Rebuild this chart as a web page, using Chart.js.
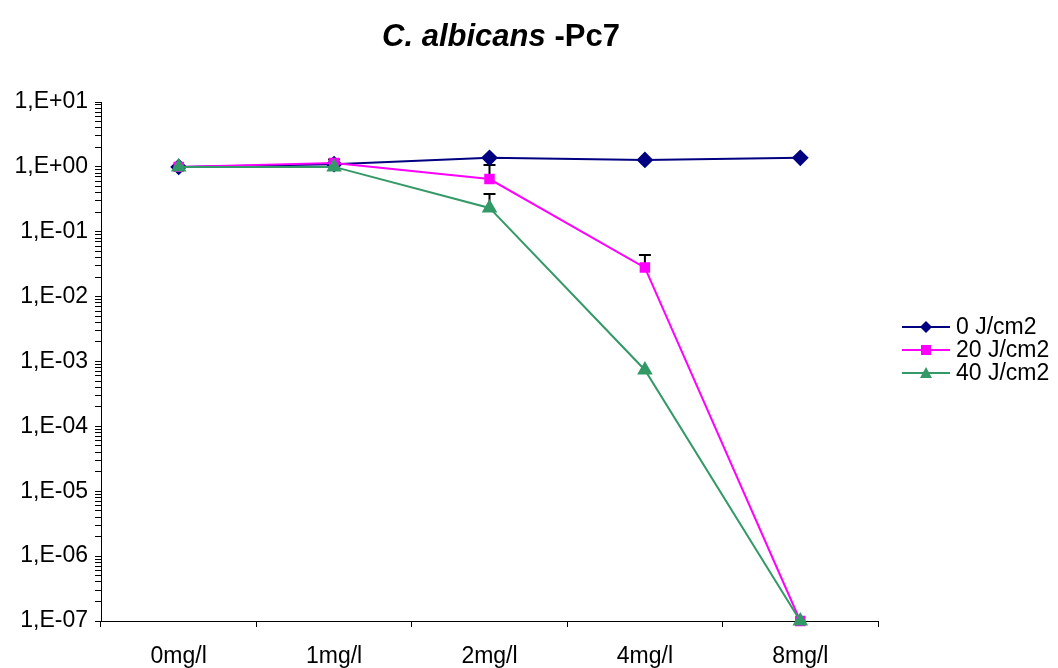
<!DOCTYPE html>
<html>
<head>
<meta charset="utf-8">
<script src="https://cdn.jsdelivr.net/npm/chart.js@4/dist/chart.umd.min.js"></script>
<style>
  body { margin: 0; background: #fff; font-family: "Liberation Sans", Arial, sans-serif; }
  #wrap { position: relative; width: 1058px; height: 668px; }
  #myChart { display: block; }
  #title { position: absolute; top: 18px; left: 0; width: 1002px; text-align: center; font-size: 31px; font-weight: bold; color: #000; }
  #legend { position: absolute; left: 902px; top: 315px; font-size: 23px; color: #000; }
  .row { display: flex; align-items: center; height: 23px; }
  .row svg { margin-right: 6px; }
</style>
</head>
<body>
<div id="wrap">
  <canvas id="myChart" width="1058" height="668"></canvas>
  <div id="title"><i>C. albicans</i> -Pc7</div>
  <div id="legend"></div>
</div>
<script>
const chartLabels = ['0mg/l', '1mg/l', '2mg/l', '4mg/l', '8mg/l'];
const seriesNames = ['0 J/cm2', '20 J/cm2', '40 J/cm2'];
const series0 = [1.0, 1.1, 1.38, 1.28, 1.38];
const series20 = [1.0, 1.15, 0.65, 0.028, 1e-7];
const series40 = [1.0, 1.0, 0.233, 7.4e-4, 1e-7];
// upper error (plus only)
const err0 = [0, 0, 0, 0, 0];
const err20 = [0, 0.15, 0.42, 0.016, 0];
const err40 = [0, 0, 0.15, 0, 0];
const yMin = 1e-7;
const yMax = 10;

const colors = ['#000080', '#FF00FF', '#339966'];
const styles = ['rectRot', 'rect', 'triangle'];
const radii = [7, 6, 7];
const values = [series0, series20, series40];
const errors = [err0, err20, err40];

function expLabel(v) {
    const e = Math.round(Math.log10(v));
    const sign = e < 0 ? '-' : '+';
    return '1,E' + sign + String(Math.abs(e)).padStart(2, '0');
}

const errorBars = {
    id: 'errorBars',
    beforeDatasetsDraw(chart) {
        const ctx = chart.ctx;
        const y = chart.scales.y;
        ctx.save();
        ctx.strokeStyle = '#000';
        ctx.lineWidth = 2;
        chart.data.datasets.forEach((ds, i) => {
            const meta = chart.getDatasetMeta(i);
            ds.errPlus.forEach((e, j) => {
                if (!e) return;
                const pt = meta.data[j];
                const top = y.getPixelForValue(ds.data[j] + e);
                ctx.beginPath();
                ctx.moveTo(pt.x, pt.y);
                ctx.lineTo(pt.x, top);
                ctx.moveTo(pt.x - 6, top);
                ctx.lineTo(pt.x + 6, top);
                ctx.stroke();
            });
        });
        ctx.restore();
    }
};

const ctx = document.getElementById('myChart');
const myChart = new Chart(ctx, {
    type: 'line',
    data: {
        labels: chartLabels,
        datasets: seriesNames.map((name, i) => ({
            label: name,
            data: values[i],
            errPlus: errors[i],
            order: seriesNames.length - 1 - i,
            borderColor: colors[i],
            backgroundColor: colors[i],
            borderWidth: 2,
            pointStyle: styles[i],
            pointRadius: radii[i],
            pointHoverRadius: radii[i],
            tension: 0,
            clip: false
        }))
    },
    options: {
        responsive: false,
        animation: false,
        layout: {
            padding: { left: 0, right: 180, top: 102, bottom: 0 }
        },
        scales: {
            x: {
                offset: true,
                afterFit: axis => { axis.height = 47; },
                grid: {
                    offset: true,
                    drawOnChartArea: false,
                    tickLength: 6,
                    color: '#000'
                },
                border: { color: '#000', width: 1 },
                ticks: {
                    color: '#000',
                    padding: 16,
                    font: { family: '"Liberation Sans", Arial', size: 23 }
                }
            },
            y: {
                type: 'logarithmic',
                min: yMin,
                max: yMax,
                afterFit: axis => { axis.width = 101; },
                afterBuildTicks: axis => {
                    axis.ticks = axis.ticks.filter(t => {
                        const m = t.value / Math.pow(10, Math.floor(Math.log10(t.value) + 1e-9));
                        return Math.abs(m - Math.round(m)) < 1e-6;
                    });
                },
                grid: {
                    drawOnChartArea: false,
                    tickLength: 6,
                    color: '#000'
                },
                border: { color: '#000', width: 1 },
                ticks: {
                    autoSkip: false,
                    color: '#000',
                    padding: 7,
                    font: { family: '"Liberation Sans", Arial', size: 23 },
                    callback: function(v) {
                        const e = Math.log10(v);
                        return Math.abs(e - Math.round(e)) < 1e-6 ? expLabel(v) : '';
                    }
                }
            }
        },
        plugins: {
            legend: { display: false },
            tooltip: { enabled: false }
        }
    },
    plugins: [errorBars]
});

// legend built from the same series arrays
const legend = document.getElementById('legend');
seriesNames.forEach((name, i) => {
    const row = document.createElement('div');
    row.className = 'row';
    let marker = '';
    if (styles[i] === 'rectRot') marker = '<polygon points="24,5 30,11 24,17 18,11" fill="' + colors[i] + '"/>';
    else if (styles[i] === 'rect') marker = '<rect x="19" y="6" width="10" height="10" fill="' + colors[i] + '"/>';
    else marker = '<polygon points="24,5 30,16 18,16" fill="' + colors[i] + '"/>';
    row.innerHTML = '<svg width="48" height="22"><line x1="0" y1="11" x2="48" y2="11" stroke="' + colors[i] + '" stroke-width="2"/>' + marker + '</svg><span>' + name + '</span>';
    legend.appendChild(row);
});
</script>
</body>
</html>
